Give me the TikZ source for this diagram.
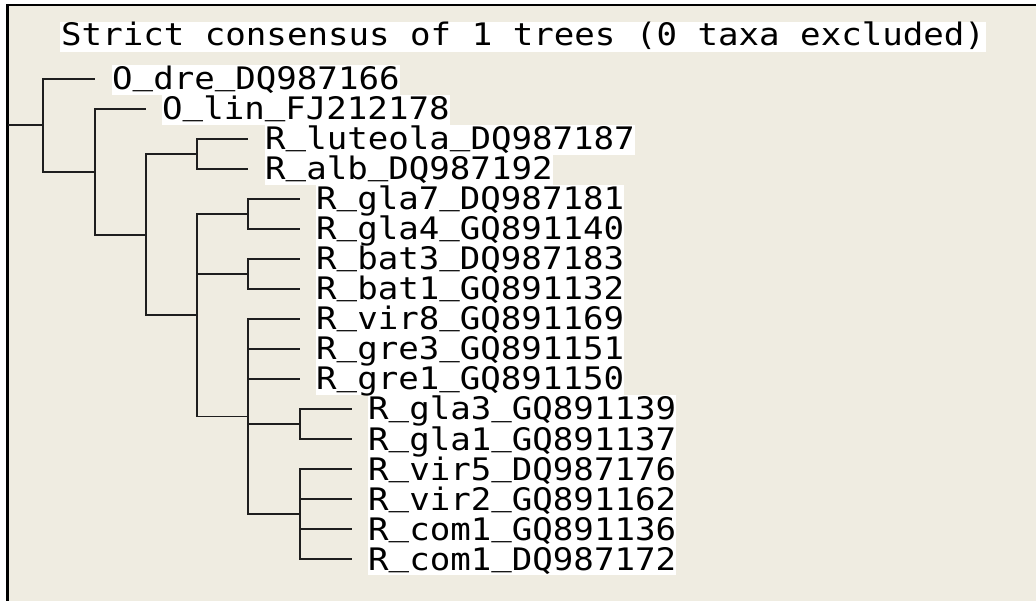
\documentclass[tikz,border=0pt]{standalone}
\usepackage{fontspec}
\usetikzlibrary{backgrounds}
\newfontfamily\treefont[FakeStretch=1.1]{DejaVu Sans Mono}
\definecolor{panel}{HTML}{EFECE1}
\definecolor{branch}{HTML}{1E1E1E}
% underscore sitting just on the baseline, as in the tree window's font
\newcommand\lowbar{\raisebox{5pt}{\_}}

\begin{document}
\begin{tikzpicture}[x=1pt, y=-1pt,
  branchline/.style={draw=branch, line width=1.9pt},
  labelfont/.style={font=\treefont\fontsize{31}{31}\selectfont},
  taxon/.style={labelfont, anchor=base west, inner xsep=0pt,
    inner ysep=0pt, text height=25pt, text depth=5pt},
  heading/.style={labelfont, anchor=base west, fill=white, inner xsep=1pt,
    inner ysep=0pt, text height=24pt, text depth=6pt},
]
\useasboundingbox (0,0) rectangle (1036,601);
% window background and frame
\begin{scope}[on background layer]
  \fill[white] (0,0) rectangle (1036,601);
  \fill[panel] (8,5) rectangle (1036,601);
\end{scope}
\draw[line width=1.6pt] (7,5) -- (1036,5);
\draw[line width=2.8pt] (7.5,4.2) -- (7.5,601);

% title
\node[heading] (title) at (60,46) {Strict consensus of 1 trees (0 taxa excluded)};

% internal nodes
\coordinate (base) at (8,125.4);
\coordinate (root) at (43,125.4);
\coordinate (n2)   at (95,171.8);
\coordinate (n3)   at (146,234.6);
\coordinate (nLA)  at (197,154);
\coordinate (n4)   at (197,315.25);
\coordinate (nGla) at (248,214);
\coordinate (nBat) at (248,274);
\coordinate (nBig) at (248,416.5);
\coordinate (nGlb) at (300,424);
\coordinate (nVC)  at (300,514);

% leaf tips
\coordinate (tDre)  at (95,79);
\coordinate (tLin)  at (146,109);
\coordinate (tLut)  at (248,139);
\coordinate (tAlb)  at (248,169);
\coordinate (tGla7) at (300,199);
\coordinate (tGla4) at (300,229);
\coordinate (tBat3) at (300,259);
\coordinate (tBat1) at (300,289);
\coordinate (tVir8) at (300,319);
\coordinate (tGre3) at (300,349);
\coordinate (tGre1) at (300,379);
\coordinate (tGla3) at (352,409);
\coordinate (tGla1) at (352,439);
\coordinate (tVir5) at (352,469);
\coordinate (tVir2) at (352,499);
\coordinate (tComA) at (352,529);
\coordinate (tComB) at (352,559);

% branches
\draw[branchline] (base) -- (root);
\draw[branchline] (root) |- (tDre);
\draw[branchline] (root) |- (n2);
\draw[branchline] (n2) |- (tLin);
\draw[branchline] (n2) |- (n3);
\draw[branchline] (n3) |- (nLA);
\draw[branchline] (n3) |- (n4);
\draw[branchline] (nLA) |- (tLut);
\draw[branchline] (nLA) |- (tAlb);
\draw[branchline] (n4) |- (nGla);
\draw[branchline] (n4) |- (nBat);
\draw[branchline] (n4) |- (nBig);
\draw[branchline] (nGla) |- (tGla7);
\draw[branchline] (nGla) |- (tGla4);
\draw[branchline] (nBat) |- (tBat3);
\draw[branchline] (nBat) |- (tBat1);
\draw[branchline] (nBig) |- (tVir8);
\draw[branchline] (nBig) |- (tGre3);
\draw[branchline] (nBig) |- (tGre1);
\draw[branchline] (nBig) |- (nGlb);
\draw[branchline] (nBig) |- (nVC);
\draw[branchline] (nGlb) |- (tGla3);
\draw[branchline] (nGlb) |- (tGla1);
\draw[branchline] (nVC) |- (tVir5);
\draw[branchline] (nVC) |- (tVir2);
\draw[branchline] (nVC) |- (tComA);
\draw[branchline] (nVC) |- (tComB);

% taxon labels
\path (tDre)  ++(17,11) node[taxon] (lDre)  {O\lowbar dre\lowbar DQ987166};
\path (tLin)  ++(16,11) node[taxon] (lLin)  {O\lowbar lin\lowbar FJ212178};
\path (tLut)  ++(17,11) node[taxon] (lLut)  {R\lowbar luteola\lowbar DQ987187};
\path (tAlb)  ++(17,11) node[taxon] (lAlb)  {R\lowbar alb\lowbar DQ987192};
\path (tGla7) ++(16,11) node[taxon] (lGla7) {R\lowbar gla7\lowbar DQ987181};
\path (tGla4) ++(16,11) node[taxon] (lGla4) {R\lowbar gla4\lowbar GQ891140};
\path (tBat3) ++(16,11) node[taxon] (lBat3) {R\lowbar bat3\lowbar DQ987183};
\path (tBat1) ++(16,11) node[taxon] (lBat1) {R\lowbar bat1\lowbar GQ891132};
\path (tVir8) ++(16,11) node[taxon] (lVir8) {R\lowbar vir8\lowbar GQ891169};
\path (tGre3) ++(16,11) node[taxon] (lGre3) {R\lowbar gre3\lowbar GQ891151};
\path (tGre1) ++(16,11) node[taxon] (lGre1) {R\lowbar gre1\lowbar GQ891150};
\path (tGla3) ++(16,11) node[taxon] (lGla3) {R\lowbar gla3\lowbar GQ891139};
\path (tGla1) ++(16,11) node[taxon] (lGla1) {R\lowbar gla1\lowbar GQ891137};
\path (tVir5) ++(16,11) node[taxon] (lVir5) {R\lowbar vir5\lowbar DQ987176};
\path (tVir2) ++(16,11) node[taxon] (lVir2) {R\lowbar vir2\lowbar GQ891162};
\path (tComA) ++(16,11) node[taxon] (lComA) {R\lowbar com1\lowbar GQ891136};
\path (tComB) ++(16,11) node[taxon] (lComB) {R\lowbar com1\lowbar DQ987172};

% white label backgrounds, kept behind every glyph
\begin{scope}[on background layer]
  \foreach \n in {lDre,lLin,lLut,lAlb,lGla7,lGla4,lBat3,lBat1,lVir8,lGre3,
                  lGre1,lGla3,lGla1,lVir5,lVir2,lComA,lComB}
    \fill[white] (\n.south west) rectangle (\n.north east);
\end{scope}
\end{tikzpicture}
\end{document}
